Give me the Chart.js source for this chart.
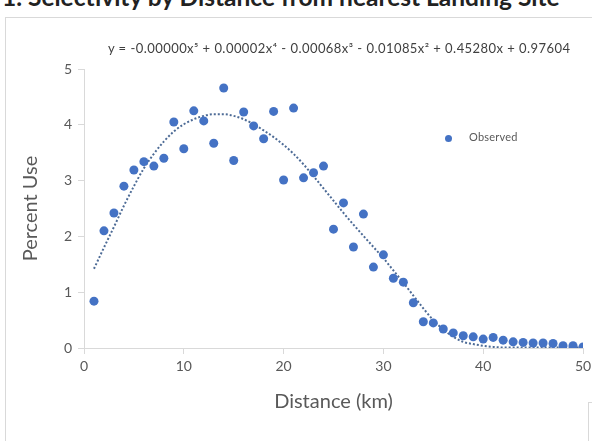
<!DOCTYPE html>
<html>
<head>
<meta charset="utf-8">
<script src="https://cdn.jsdelivr.net/npm/chart.js@4/dist/chart.umd.min.js"></script>
<style>
  body { margin: 0; width: 592px; height: 441px; overflow: hidden; background: #fff; font-family: Lato, "Open Sans", sans-serif; position: relative; }
  #title { position: absolute; left: 2px; top: -18px; font-size: 24.5px; font-weight: bold; color: #222; white-space: nowrap; }
  #frame { position: absolute; left: 5px; top: 17px; width: 700px; height: 600px; border: 1px solid #d9d9d9; }
  #corner { position: absolute; left: 588px; top: 402px; width: 40px; height: 60px; border: 1px solid #d9d9d9; }
  #wrap { position: absolute; left: 0; top: 0; width: 620px; height: 441px; }
  #equation { position: absolute; left: 108px; top: 40px; font-size: 13px; letter-spacing: 0.45px; color: #404040; white-space: nowrap; }
  #legend { position: absolute; left: 445px; top: 130px; font-size: 11px; letter-spacing: 0.2px; color: #595959; white-space: nowrap; }
  #legend span.dot { display: inline-block; width: 7px; height: 7px; border-radius: 50%; background: #4472C4; margin-right: 17px; vertical-align: middle; }
</style>
</head>
<body>
<div id="title">1. Selectivity by Distance from nearest Landing Site</div>
<div id="frame"></div>
<div id="corner"></div>
<div id="wrap"><canvas id="selectivityChart"></canvas></div>
<div id="equation">y = -0.00000x⁵ + 0.00002x⁴ - 0.00068x³ - 0.01085x² + 0.45280x + 0.97604</div>
<div id="legend"><span class="dot"></span>Observed</div>
<script>
const distanceKm = [1, 2, 3, 4, 5, 6, 7, 8, 9, 10, 11, 12, 13, 14, 15, 16, 17, 18, 19, 20,
    21, 22, 23, 24, 25, 26, 27, 28, 29, 30, 31, 32, 33, 34, 35, 36, 37, 38, 39, 40,
    41, 42, 43, 44, 45, 46, 47, 48, 49, 50];

const observedPct = [0.84, 2.10, 2.42, 2.90, 3.19, 3.34, 3.26, 3.40, 4.05, 3.57,
    4.25, 4.07, 3.67, 4.66, 3.36, 4.23, 3.98, 3.75, 4.24, 3.01,
    4.30, 3.05, 3.14, 3.26, 2.13, 2.60, 1.81, 2.40, 1.45, 1.67,
    1.25, 1.18, 0.81, 0.47, 0.45, 0.34, 0.27, 0.22, 0.20, 0.16,
    0.19, 0.14, 0.11, 0.10, 0.09, 0.09, 0.08, 0.04, 0.04, 0.02];

// polynomial trendline
const trendPct = [1.42, 1.80, 2.17, 2.55, 2.90, 3.22, 3.48, 3.70, 3.88, 4.01,
    4.10, 4.16, 4.19, 4.19, 4.16, 4.10, 4.01, 3.90, 3.78, 3.64,
    3.48, 3.29, 3.08, 2.86, 2.64, 2.42, 2.21, 2.01, 1.81, 1.61,
    1.39, 1.17, 0.94, 0.71, 0.50, 0.33, 0.20, 0.11, 0.07, 0.04,
    0.02, 0.01, 0.01, 0.01, 0.01, 0.01, 0.01, 0.01, 0.01, 0.01];

const xTicks = [0, 10, 20, 30, 40, 50];
const yTicks = [0, 1, 2, 3, 4, 5];

const axisGrey = '#d9d9d9';
const labelGrey = '#595959';

const ctx = document.getElementById('selectivityChart').getContext('2d');

new Chart(ctx, {
    type: 'scatter',
    data: {
        datasets: [{
            label: 'Observed',
            data: distanceKm.map((d, i) => ({ x: d, y: observedPct[i] })),
            backgroundColor: '#4472C4',
            borderWidth: 0,
            pointRadius: 4.5,
            order: 1
        }, {
            label: 'Trend',
            type: 'line',
            data: distanceKm.map((d, i) => ({ x: d, y: trendPct[i] })),
            borderColor: '#4d6b96',
            borderWidth: 2,
            borderDash: [2, 2],
            pointRadius: 0,
            cubicInterpolationMode: 'monotone',
            fill: false,
            order: 2
        }]
    },
    options: {
        responsive: true,
        maintainAspectRatio: false,
        animation: false,
        layout: { padding: { top: 69, right: 37, bottom: 0, left: 0 } },
        plugins: {
            legend: { display: false },
            tooltip: { enabled: false }
        },
        scales: {
            x: {
                type: 'linear',
                min: xTicks[0],
                max: xTicks[xTicks.length - 1],
                afterBuildTicks: scale => { scale.ticks = xTicks.map(v => ({ value: v })); },
                afterFit: scale => { scale.height = 93; },
                grid: { drawOnChartArea: false, drawTicks: true, tickLength: 6, color: axisGrey },
                border: { color: axisGrey },
                ticks: { color: labelGrey, font: { family: 'Lato', size: 14 }, padding: 4, maxRotation: 0 },
                title: {
                    display: true,
                    text: 'Distance (km)',
                    color: labelGrey,
                    font: { family: 'Lato', size: 20 },
                    padding: { top: 0, bottom: 27 }
                }
            },
            y: {
                type: 'linear',
                min: yTicks[0],
                max: yTicks[yTicks.length - 1],
                afterBuildTicks: scale => { scale.ticks = yTicks.map(v => ({ value: v })); },
                afterFit: scale => { scale.width = 84; },
                grid: { drawOnChartArea: false, drawTicks: true, tickLength: 6, color: axisGrey },
                border: { color: axisGrey },
                ticks: { color: labelGrey, font: { family: 'Lato', size: 14 }, padding: 6 },
                title: {
                    display: true,
                    text: 'Percent Use',
                    color: labelGrey,
                    font: { family: 'Lato', size: 20 },
                    padding: { top: 19, bottom: 0 }
                }
            }
        }
    }
});
</script>
</body>
</html>
